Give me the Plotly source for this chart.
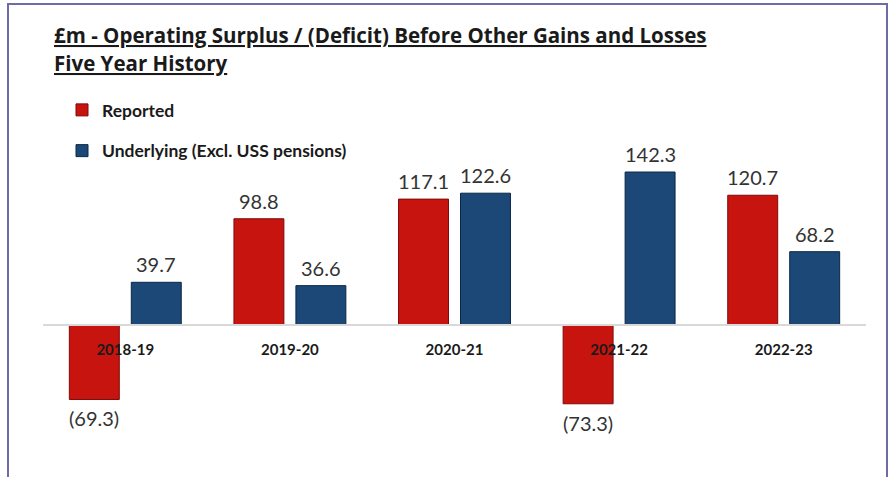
import plotly.graph_objects as go

categories = ["2018-19", "2019-20", "2020-21", "2021-22", "2022-23"]
reported = [-69.3, 98.8, 117.1, -73.3, 120.7]
underlying = [39.7, 36.6, 122.6, 142.3, 68.2]
series_names = ["Reported", "Underlying (Excl. USS pensions)"]
title_lines = ["£m - Operating Surplus / (Deficit) Before Other Gains and Losses",
               "Five Year History"]


def fmt(v):
    return f"({abs(v):.1f})" if v < 0 else f"{v:.1f}"


W, H = 893, 477
ML, MR, MT, MB = 43, 27, 100, 7
PW = W - ML - MR
PH = H - MT - MB
YMIN, YMAX = -134.9, 209.3
BAR_OFFSET_PX = 31


def px_x(px):
    return (px - ML) / PW


def px_y(py):
    return (H - MB - py) / PH


fig = go.Figure()
fig.add_trace(go.Bar(
    x=categories, y=reported, name=series_names[0], legendgroup="a",
    marker=dict(color="#c8140f", line=dict(color="#7d0a08", width=1)),
))
fig.add_trace(go.Bar(
    x=categories, y=underlying, name=series_names[1], legendgroup="b",
    marker=dict(color="#1b4877", line=dict(color="#0c2746", width=1)),
))

annotations = [
    dict(text="<u>" + title_lines[0] + "</u>", x=px_x(52), y=px_y(35),
         xref="paper", yref="paper", xanchor="left", yanchor="middle",
         showarrow=False, font=dict(family="Open Sans", size=20.5, color="#1a1a1a", weight="bold")),
    dict(text="<u>" + title_lines[1] + "</u>", x=px_x(52), y=px_y(63),
         xref="paper", yref="paper", xanchor="left", yanchor="middle",
         showarrow=False, font=dict(family="Open Sans", size=20.5, color="#1a1a1a", weight="bold")),
]
for series, xs in ((reported, -BAR_OFFSET_PX), (underlying, BAR_OFFSET_PX)):
    for i, v in enumerate(series):
        annotations.append(dict(
            text=fmt(v), x=categories[i], y=v, xref="x", yref="y",
            xshift=xs, yshift=18 if v >= 0 else -19,
            xanchor="center", yanchor="middle", showarrow=False,
            font=dict(family="Lato", size=20, color="#333333"),
        ))

zero_pos = (0 - YMIN) / (YMAX - YMIN)

fig.update_layout(
    width=W, height=H,
    margin=dict(l=ML, r=MR, t=MT, b=MB, autoexpand=False),
    paper_bgcolor="white", plot_bgcolor="white",
    barmode="group", bargap=0.247, bargroupgap=0.194,
    font=dict(family="Lato", color="#1a1a1a"),
    showlegend=True,
    legend=dict(
        x=px_x(62), y=px_y(92), xanchor="left", yanchor="top",
        font=dict(family="Lato", size=17.5, color="#1a1a1a", weight="bold"),
        tracegroupgap=15, bgcolor="rgba(0,0,0,0)", traceorder="grouped",
    ),
    xaxis=dict(
        type="category", range=[-0.5, 4.5], anchor="free", position=zero_pos,
        showline=True, linecolor="#d9d9d9", linewidth=2,
        ticks="", ticklabelstandoff=11, showgrid=False, zeroline=False,
        tickfont=dict(family="Lato", size=15, color="#1a1a1a", weight="bold"),
        layer="above traces",
    ),
    yaxis=dict(range=[YMIN, YMAX], visible=False, showgrid=False, zeroline=False),
    shapes=[dict(
        type="rect", xref="paper", yref="paper",
        x0=px_x(8), x1=px_x(887), y0=px_y(490), y1=px_y(4),
        line=dict(color="#6f6aa8", width=2), fillcolor="rgba(0,0,0,0)", layer="below",
    )],
    annotations=annotations,
)

fig.write_html("out.html", config={"displayModeBar": False},
               post_script="document.body.style.margin='0';")
